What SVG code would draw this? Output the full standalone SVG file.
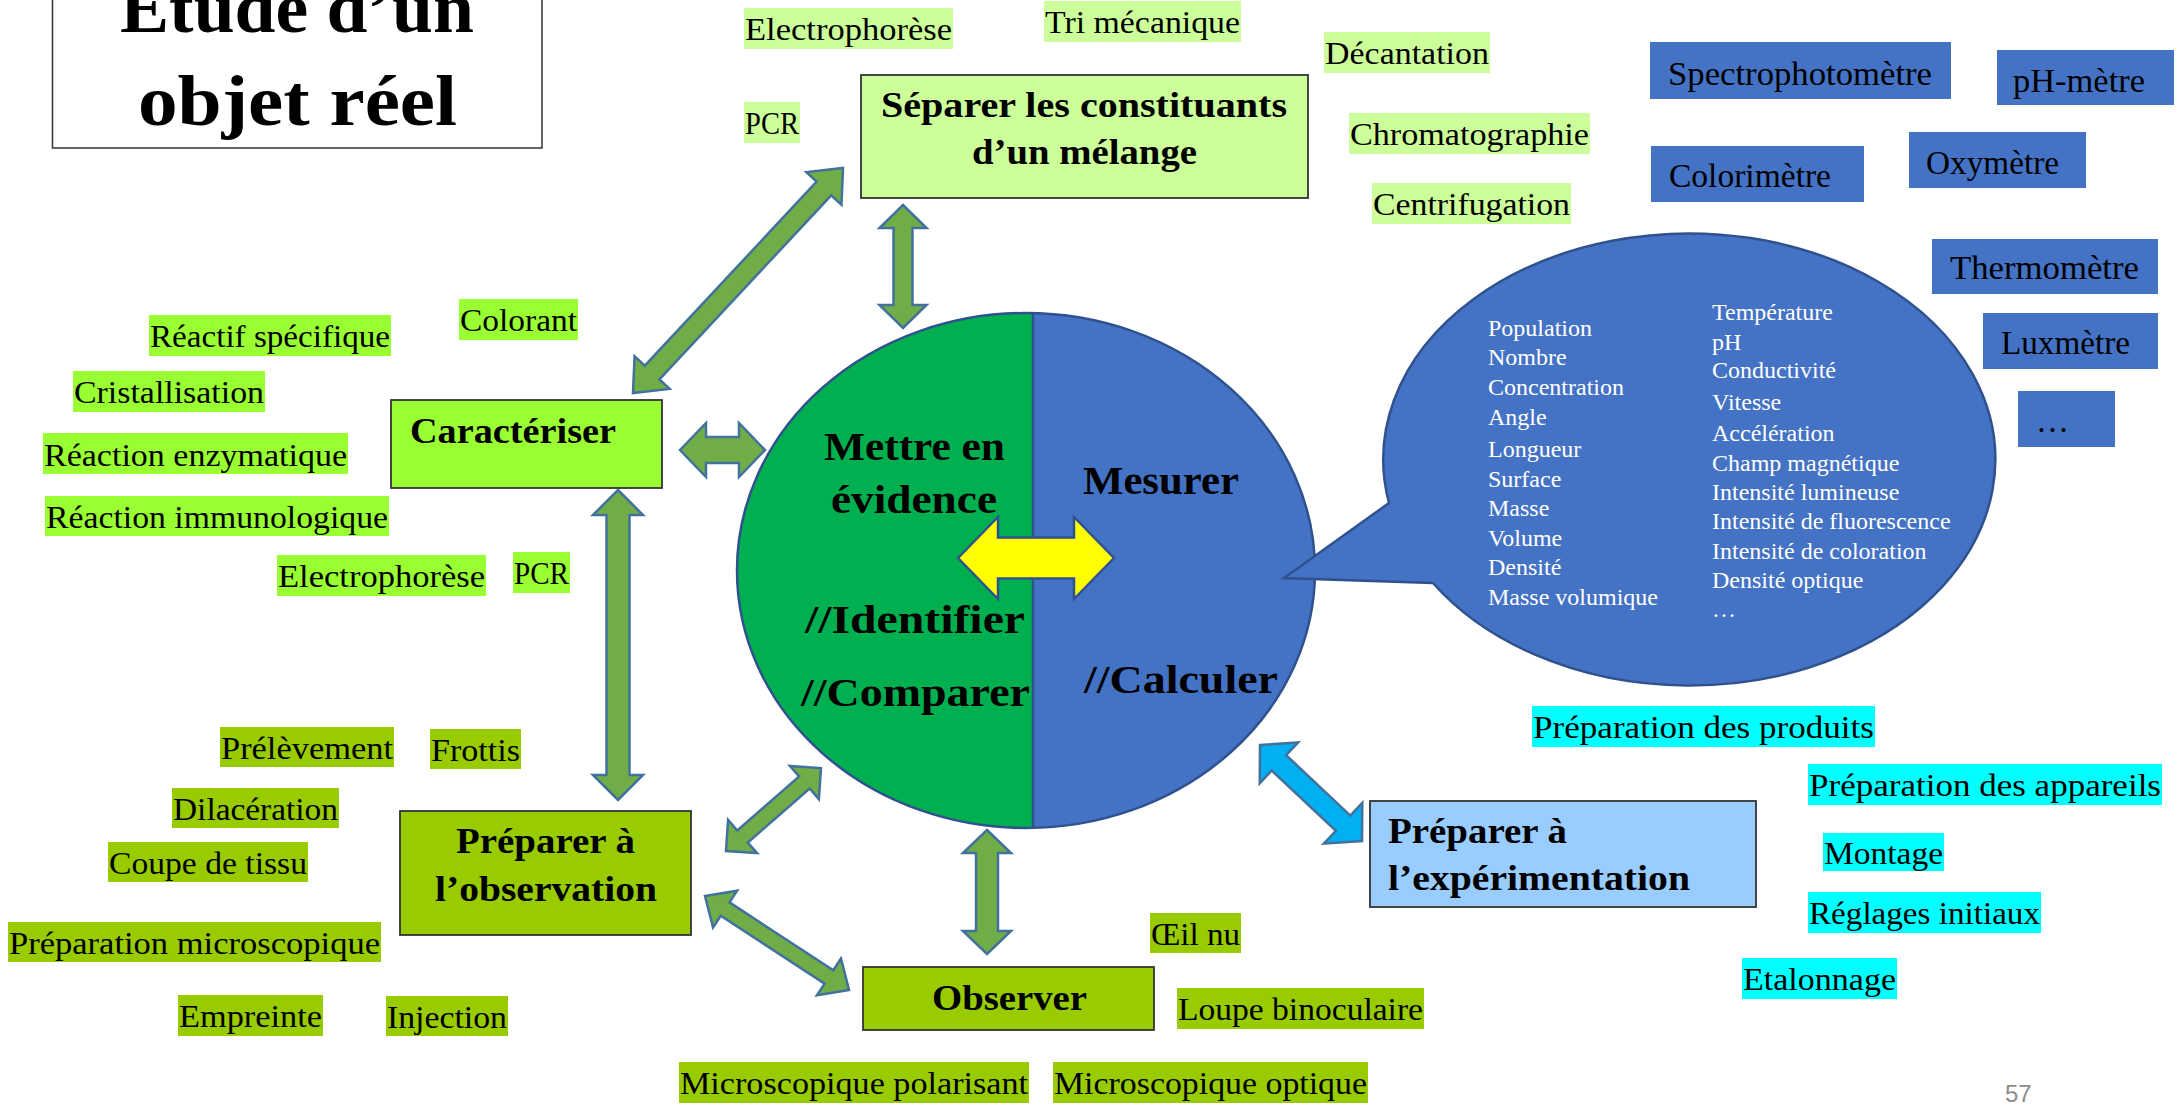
<svg xmlns="http://www.w3.org/2000/svg" width="2179" height="1105" viewBox="0 0 2179 1105">
<style>
text{font-family:"Liberation Serif","Times New Roman",serif;fill:#000}
.b{font-weight:bold}
.lbl{font-size:31px}
.lg{fill:#CCFF99}
.bg{fill:#99FF33}
.og{fill:#99CC00}
.cy{fill:#00FFFF}
.box{stroke:#333;stroke-width:1.8}
.inst{fill:#4472C4}
.it{font-size:33px}
.bt{font-size:24px;fill:#fff}
.nt{font-size:36px;font-weight:bold}
.ct{font-size:39px;font-weight:bold}
.arr{fill:#70AD47;stroke:#41719C;stroke-width:2.5;stroke-linejoin:miter}
</style>
<defs>
<clipPath id="lh"><rect x="0" y="0" width="1033" height="1105"/></clipPath>
<clipPath id="rh"><rect x="1033" y="0" width="1146" height="1105"/></clipPath>
</defs>
<rect width="2179" height="1105" fill="#fff"/>

<g id="title">
<rect x="52.5" y="-5" width="489.5" height="153" fill="#fff" stroke="#333" stroke-width="1.5"/>
<text x="120" y="32" class="b" font-size="72" textLength="354" lengthAdjust="spacingAndGlyphs">Étude d’un</text>
<text x="138" y="125" class="b" font-size="72" textLength="319" lengthAdjust="spacingAndGlyphs">objet réel</text>
</g>

<g id="connectors">
<path class="arr" d="M0,0 L28,-24 L28,-10 L279.8,-10 L279.8,-24 L307.8,0 L279.8,24 L279.8,10 L28,10 L28,24 Z" transform="translate(633,393) rotate(-46.97)"/>
<path class="arr" d="M0,0 L23,-23.5 L23,-9.5 L100,-9.5 L100,-23.5 L123,0 L100,23.5 L100,9.5 L23,9.5 L23,23.5 Z" transform="translate(903,205) rotate(90)"/>
<path class="arr" d="M0,0 L26,-27 L26,-13 L59,-13 L59,-27 L85,0 L59,27 L59,13 L26,13 L26,27 Z" transform="translate(680,450)"/>
<path class="arr" d="M0,0 L25,-25 L25,-11.5 L285,-11.5 L285,-25 L310,0 L285,25 L285,11.5 L25,11.5 L25,25 Z" transform="translate(618,490) rotate(90)"/>
<path class="arr" d="M0,0 L22,-22 L22,-8 L104.1,-8 L104.1,-22 L126.1,0 L104.1,22 L104.1,8 L22,8 L22,22 Z" transform="translate(726,851) rotate(-41.14)"/>
<path class="arr" d="M0,0 L24,-22 L24,-8 L148,-8 L148,-22 L172,0 L148,22 L148,8 L24,8 L24,22 Z" transform="translate(705,896) rotate(33.13)"/>
<path class="arr" d="M0,0 L23,-24 L23,-11 L101,-11 L101,-24 L124,0 L101,24 L101,11 L23,11 L23,24 Z" transform="translate(987,830) rotate(90)"/>
<path class="arr" style="fill:#00B0F0" d="M0,0 L26,-28 L26,-10.5 L114.1,-10.5 L114.1,-28 L140.1,0 L114.1,28 L114.1,10.5 L26,10.5 L26,28 Z" transform="translate(1260,745) rotate(43.26)"/>
</g>

<g id="node-central">
<ellipse cx="1026" cy="570.5" rx="289" ry="257.5" fill="#00B050" clip-path="url(#lh)"/>
<ellipse cx="1026" cy="570.5" rx="289" ry="257.5" fill="#4472C4" clip-path="url(#rh)"/>
<ellipse cx="1026" cy="570.5" rx="289" ry="257.5" fill="none" stroke="#2F528F" stroke-width="2.5"/>
<line x1="1033" y1="313" x2="1033" y2="828" stroke="#2F528F" stroke-width="2.5"/>
<text x="824" y="460" class="ct" textLength="181" lengthAdjust="spacingAndGlyphs">Mettre en</text>
<text x="831" y="513" class="ct" textLength="166" lengthAdjust="spacingAndGlyphs">évidence</text>
<text x="1083" y="494" class="ct" textLength="156" lengthAdjust="spacingAndGlyphs">Mesurer</text>
<text x="805" y="633" class="ct" textLength="220" lengthAdjust="spacingAndGlyphs">//Identifier</text>
<text x="801" y="706" class="ct" textLength="229" lengthAdjust="spacingAndGlyphs">//Comparer</text>
<text x="1084" y="693" class="ct" textLength="194" lengthAdjust="spacingAndGlyphs">//Calculer</text>
<path class="arr" style="fill:#FFFF00;stroke:#2F528F" d="M0,0 L40,-41 L40,-20.5 L116,-20.5 L116,-41 L156,0 L116,41 L116,20.5 L40,20.5 L40,41 Z" transform="translate(958,558)"/>
</g>

<g id="node-separer">
<rect x="861" y="75" width="447" height="123" class="lg box"/>
<text x="881" y="117" class="nt" textLength="406" lengthAdjust="spacingAndGlyphs">Séparer les constituants</text>
<text x="972" y="164" class="nt" textLength="225" lengthAdjust="spacingAndGlyphs">d’un mélange</text>
</g>

<g id="node-caracteriser">
<rect x="391" y="400" width="271" height="88" class="bg box"/>
<text x="410" y="443" class="nt" textLength="206" lengthAdjust="spacingAndGlyphs">Caractériser</text>
</g>

<g id="node-preparer-obs">
<rect x="400" y="811" width="291" height="124" class="og box"/>
<text x="456" y="853" class="nt" textLength="179" lengthAdjust="spacingAndGlyphs">Préparer à</text>
<text x="435" y="901" class="nt" textLength="222" lengthAdjust="spacingAndGlyphs">l’observation</text>
</g>

<g id="node-observer">
<rect x="863" y="967" width="291" height="63" class="og box"/>
<text x="932" y="1010" class="nt" textLength="155" lengthAdjust="spacingAndGlyphs">Observer</text>
</g>

<g id="node-preparer-exp">
<rect x="1370" y="801" width="386" height="106" fill="#99CCFF" class="box"/>
<text x="1388" y="843" class="nt" textLength="179" lengthAdjust="spacingAndGlyphs">Préparer à</text>
<text x="1388" y="890" class="nt" textLength="302" lengthAdjust="spacingAndGlyphs">l’expérimentation</text>
</g>

<g id="node-bulle">
<path d="M1389,503 L1284,578 L1433,583 A306,226 0 1 0 1389,503 Z" fill="#4472C4" stroke="#2F528F" stroke-width="2.5"/>
<text x="1488" y="335.6" class="bt">Population</text>
<text x="1488" y="365" class="bt">Nombre</text>
<text x="1488" y="395" class="bt">Concentration</text>
<text x="1488" y="425" class="bt">Angle</text>
<text x="1488" y="457" class="bt">Longueur</text>
<text x="1488" y="486.5" class="bt">Surface</text>
<text x="1488" y="516" class="bt">Masse</text>
<text x="1488" y="546" class="bt">Volume</text>
<text x="1488" y="575" class="bt">Densité</text>
<text x="1488" y="605" class="bt">Masse volumique</text>
<text x="1712" y="320" class="bt">Température</text>
<text x="1712" y="350" class="bt">pH</text>
<text x="1712" y="378" class="bt">Conductivité</text>
<text x="1712" y="410" class="bt">Vitesse</text>
<text x="1712" y="440.5" class="bt">Accélération</text>
<text x="1712" y="471" class="bt">Champ magnétique</text>
<text x="1712" y="500" class="bt">Intensité lumineuse</text>
<text x="1712" y="529" class="bt">Intensité de fluorescence</text>
<text x="1712" y="558.5" class="bt">Intensité de coloration</text>
<text x="1712" y="588" class="bt">Densité optique</text>
<text x="1712" y="617" class="bt">…</text>
</g>

<g id="instruments">
<rect x="1650" y="42" width="301" height="57" class="inst"/>
<text x="1668" y="85" class="it" textLength="264" lengthAdjust="spacingAndGlyphs">Spectrophotomètre</text>
<rect x="1997" y="50" width="177" height="55" class="inst"/>
<text x="2013" y="92" class="it" textLength="132" lengthAdjust="spacingAndGlyphs">pH-mètre</text>
<rect x="1651" y="146" width="213" height="56" class="inst"/>
<text x="1669" y="187" class="it" textLength="162" lengthAdjust="spacingAndGlyphs">Colorimètre</text>
<rect x="1909" y="132" width="177" height="56" class="inst"/>
<text x="1926" y="174" class="it" textLength="133" lengthAdjust="spacingAndGlyphs">Oxymètre</text>
<rect x="1932" y="239" width="226" height="55" class="inst"/>
<text x="1950" y="279" class="it" textLength="189" lengthAdjust="spacingAndGlyphs">Thermomètre</text>
<rect x="1983" y="313" width="175" height="56" class="inst"/>
<text x="2001" y="354" class="it" textLength="129" lengthAdjust="spacingAndGlyphs">Luxmètre</text>
<rect x="2018" y="391" width="97" height="56" class="inst"/>
<text x="2036" y="432" class="it">…</text>
</g>

<g id="labels-separer">
<rect x="744" y="8" width="209" height="41" class="lg"/><text x="745" y="40" class="lbl" textLength="207" lengthAdjust="spacingAndGlyphs">Electrophorèse</text>
<rect x="1044" y="1" width="197" height="41" class="lg"/><text x="1045" y="33" class="lbl" textLength="195" lengthAdjust="spacingAndGlyphs">Tri mécanique</text>
<rect x="1324" y="32" width="166" height="41" class="lg"/><text x="1325" y="64" class="lbl" textLength="164" lengthAdjust="spacingAndGlyphs">Décantation</text>
<rect x="744" y="102" width="56" height="41" class="lg"/><text x="745" y="134" class="lbl" textLength="54" lengthAdjust="spacingAndGlyphs">PCR</text>
<rect x="1349" y="113" width="241" height="41" class="lg"/><text x="1350" y="145" class="lbl" textLength="239" lengthAdjust="spacingAndGlyphs">Chromatographie</text>
<rect x="1372" y="183" width="199" height="41" class="lg"/><text x="1373" y="215" class="lbl" textLength="197" lengthAdjust="spacingAndGlyphs">Centrifugation</text>
</g>

<g id="labels-caracteriser">
<rect x="149" y="315" width="242" height="41" class="bg"/><text x="150" y="347" class="lbl" textLength="240" lengthAdjust="spacingAndGlyphs">Réactif spécifique</text>
<rect x="459" y="299" width="119" height="41" class="bg"/><text x="460" y="331" class="lbl" textLength="117" lengthAdjust="spacingAndGlyphs">Colorant</text>
<rect x="73" y="371" width="192" height="41" class="bg"/><text x="74" y="403" class="lbl" textLength="190" lengthAdjust="spacingAndGlyphs">Cristallisation</text>
<rect x="43" y="433" width="305" height="41" class="bg"/><text x="44" y="466" class="lbl" textLength="303" lengthAdjust="spacingAndGlyphs">Réaction enzymatique</text>
<rect x="45" y="496" width="344" height="40" class="bg"/><text x="46" y="528" class="lbl" textLength="342" lengthAdjust="spacingAndGlyphs">Réaction immunologique</text>
<rect x="277" y="555" width="209" height="41" class="bg"/><text x="278" y="587" class="lbl" textLength="207" lengthAdjust="spacingAndGlyphs">Electrophorèse</text>
<rect x="513" y="552" width="57" height="41" class="bg"/><text x="514" y="584" class="lbl" textLength="55" lengthAdjust="spacingAndGlyphs">PCR</text>
</g>

<g id="labels-observation">
<rect x="220" y="727" width="174" height="40" class="og"/><text x="221" y="759" class="lbl" textLength="172" lengthAdjust="spacingAndGlyphs">Prélèvement</text>
<rect x="430" y="729" width="91" height="40" class="og"/><text x="431" y="761" class="lbl" textLength="89" lengthAdjust="spacingAndGlyphs">Frottis</text>
<rect x="172" y="788" width="167" height="40" class="og"/><text x="173" y="820" class="lbl" textLength="165" lengthAdjust="spacingAndGlyphs">Dilacération</text>
<rect x="108" y="842" width="200" height="40" class="og"/><text x="109" y="874" class="lbl" textLength="198" lengthAdjust="spacingAndGlyphs">Coupe de tissu</text>
<rect x="8" y="922" width="373" height="40" class="og"/><text x="9" y="954" class="lbl" textLength="371" lengthAdjust="spacingAndGlyphs">Préparation microscopique</text>
<rect x="178" y="995" width="145" height="41" class="og"/><text x="179" y="1027" class="lbl" textLength="143" lengthAdjust="spacingAndGlyphs">Empreinte</text>
<rect x="386" y="996" width="122" height="40" class="og"/><text x="387" y="1028" class="lbl" textLength="120" lengthAdjust="spacingAndGlyphs">Injection</text>
<rect x="679" y="1062" width="350" height="41" class="og"/><text x="680" y="1094" class="lbl" textLength="348" lengthAdjust="spacingAndGlyphs">Microscopique polarisant</text>
<rect x="1053" y="1062" width="315" height="41" class="og"/><text x="1054" y="1094" class="lbl" textLength="313" lengthAdjust="spacingAndGlyphs">Microscopique optique</text>
<rect x="1150" y="913" width="91" height="40" class="og"/><text x="1151" y="945" class="lbl" textLength="89" lengthAdjust="spacingAndGlyphs">Œil nu</text>
<rect x="1177" y="988" width="247" height="41" class="og"/><text x="1178" y="1020" class="lbl" textLength="245" lengthAdjust="spacingAndGlyphs">Loupe binoculaire</text>
</g>

<g id="labels-experimentation">
<rect x="1532" y="706" width="343" height="41" class="cy"/><text x="1533" y="738" class="lbl" textLength="341" lengthAdjust="spacingAndGlyphs">Préparation des produits</text>
<rect x="1808" y="764" width="354" height="41" class="cy"/><text x="1809" y="796" class="lbl" textLength="352" lengthAdjust="spacingAndGlyphs">Préparation des appareils</text>
<rect x="1823" y="833" width="121" height="38" class="cy"/><text x="1824" y="864" class="lbl" textLength="119" lengthAdjust="spacingAndGlyphs">Montage</text>
<rect x="1808" y="892" width="233" height="41" class="cy"/><text x="1809" y="924" class="lbl" textLength="231" lengthAdjust="spacingAndGlyphs">Réglages initiaux</text>
<rect x="1742" y="958" width="155" height="41" class="cy"/><text x="1743" y="990" class="lbl" textLength="153" lengthAdjust="spacingAndGlyphs">Etalonnage</text>
</g>

<text x="2005" y="1102" font-size="24" style="font-family:'Liberation Sans',Arial,sans-serif;fill:#8C8C8C">57</text>
</svg>
